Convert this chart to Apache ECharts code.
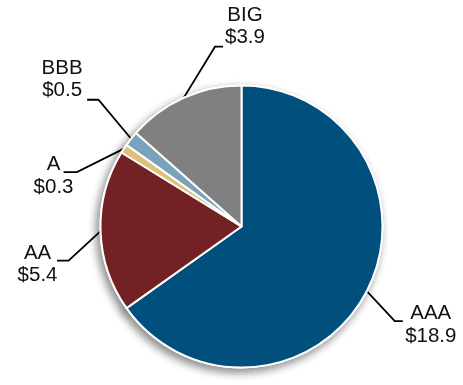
<!DOCTYPE html>
<html><head><meta charset="utf-8">
<script src="https://cdn.jsdelivr.net/npm/echarts@6/dist/echarts.min.js"></script>
<style>html,body{margin:0;padding:0;background:#fff}#c{width:463px;height:385px}</style>
</head><body><div id="c"></div>
<script>
const categories = ['AAA', 'AA', 'A', 'BBB', 'BIG'];
const values = [18.9, 5.4, 0.3, 0.5, 3.9];
const colors = ['#004f7d', '#722224', '#dfc07a', '#7ba2bc', '#808080'];
// leader-line styling per slice: [bendDx, bendDy, horizLen, textCenterDx, lineAtSecondRow]
const leaders = [
  [28, 30, 8, 28, 0],
  [-32, 29.5, -11.6, -19.4, 0],
  [-47, 23.5, -13.4, -10, 0],
  [-32.7, -39, -11.3, -25, 1],
  [31.3, -51.2, 8, 22, 1]
];
const FONT = 20.5, LH = 22.5, BASE = 7.6;

const data = categories.map((c, i) => ({ name: c, value: values[i], itemStyle: { color: colors[i] } }));

const chart = echarts.init(document.getElementById('c'), null, { renderer: 'canvas' });
chart.setOption({
  animation: false,
  backgroundColor: '#fff',
  series: [
    {
      type: 'pie', silent: true, center: [241.5, 226.5], radius: 141, startAngle: 90, clockwise: true,
      label: { show: false }, labelLine: { show: false },
      itemStyle: { borderColor: '#fff', borderWidth: 2, shadowBlur: 9, shadowOffsetX: -3, shadowOffsetY: 4, shadowColor: 'rgba(0,0,0,0.45)' },
      data: data
    },
    {
      type: 'pie', silent: true, center: [241.5, 226.5], radius: 141, startAngle: 90, clockwise: true,
      avoidLabelOverlap: false,
      itemStyle: { borderColor: '#fff', borderWidth: 2 },
      label: {
        show: true, position: 'outside', color: '#111', fontSize: FONT, lineHeight: LH,
        fontFamily: '"Liberation Sans", Arial, sans-serif', align: 'center',
        formatter: p => p.name + '\n$' + values[p.dataIndex].toFixed(1)
      },
      labelLine: { show: true, length: 20, length2: 10, lineStyle: { color: '#000', width: 1.8 } },
      labelLayout: function (params) {
        const pts = params.labelLinePoints;
        if (!pts) return {};
        const L = leaders[params.dataIndex];
        const p0 = pts[0];
        const p1 = [p0[0] + L[0], p0[1] + L[1]];
        const p2 = [p1[0] + L[2], p1[1]];
        const y = L[4] ? p2[1] - 1.5 - (LH * 1.5 + BASE) : p2[1] - (LH / 2 + BASE);
        return {
          x: p2[0] + L[3], y: y, align: 'center', verticalAlign: 'top',
          labelLinePoints: [p0, p1, p2]
        };
      },
      data: data
    }
  ]
});
</script></body></html>
